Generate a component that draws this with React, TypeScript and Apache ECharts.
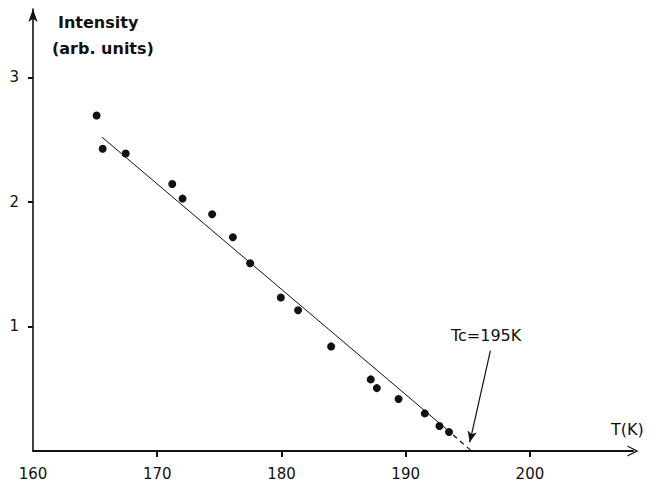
import React, { useEffect, useRef } from "react";
import * as echarts from "echarts";

// Temperature (K) of each measured point
const temps = [165.12, 165.61, 167.46, 171.21, 172.04, 174.42, 176.09, 177.48, 179.95, 181.34, 184.0, 187.19, 187.68, 189.43, 191.54, 192.72, 193.49];
// Intensity (arb. units)
const intensity = [2.695, 2.428, 2.39, 2.144, 2.027, 1.901, 1.717, 1.508, 1.233, 1.131, 0.84, 0.575, 0.505, 0.417, 0.302, 0.201, 0.152];
// Fitted straight line (solid part) and its extrapolation (dashed) to Tc
const fitSolid: [number, number][] = [[165.55, 2.521], [193.28, 0.176]];
const fitDashed: [number, number][] = [[193.28, 0.176], [195.3, 0]];
// Tc annotation arrow: from label to the axis
const tcArrow: [number, number][] = [[196.82, 0.806], [195.16, 0.07]];
const xTicks = [160, 170, 180, 190, 200];
const yTicks = [1, 2, 3];

const FONT = "DejaVu Sans";
const INK = "#111";

export default function App() {
  const ref = useRef<HTMLDivElement>(null);
  useEffect(() => {
    if (!ref.current) return;
    const chart = echarts.init(ref.current, undefined, { renderer: "svg" });
    const points = temps.map((t, i) => [t, intensity[i]]);
    chart.setOption({
      animation: false,
      backgroundColor: "#fff",
      grid: { left: 33, right: 16, top: 9, bottom: 29 },
      xAxis: {
        type: "value",
        min: 160,
        max: 208.3,
        axisLine: {
          lineStyle: { color: INK, width: 2 },
          symbol: ["none", "path://M0,12 L6,0 L12,12 L10.6,12 L6,3 L1.4,12 Z"],
          symbolSize: [11, 12],
        },
        axisTick: { customValues: xTicks.slice(1), length: 6, lineStyle: { color: INK, width: 2 } },
        axisLabel: { customValues: xTicks, color: INK, fontFamily: FONT, fontSize: 15, margin: 15 },
        splitLine: { show: false },
      },
      yAxis: {
        type: "value",
        min: 0,
        max: 3.55,
        axisLine: {
          lineStyle: { color: INK, width: 1.6 },
          symbol: ["none", "arrow"],
          symbolSize: [7, 13],
        },
        axisTick: { customValues: yTicks, length: 5, lineStyle: { color: INK, width: 2 } },
        axisLabel: { customValues: yTicks, color: INK, fontFamily: FONT, fontSize: 15, margin: 14 },
        splitLine: { show: false },
      },
      series: [
        {
          type: "line",
          data: fitSolid,
          symbol: "none",
          lineStyle: { color: INK, width: 1 },
          silent: true,
        },
        {
          type: "line",
          data: fitDashed,
          symbol: "none",
          lineStyle: { color: INK, width: 1.2, type: [5, 4] },
          silent: true,
        },
        {
          type: "line",
          data: [],
          silent: true,
          markLine: {
            silent: true,
            symbol: ["none", "arrow"],
            symbolSize: [7, 11],
            lineStyle: { color: INK, width: 1.2, type: "solid" },
            label: { show: false },
            data: [[{ coord: tcArrow[0] }, { coord: tcArrow[1] }]],
          },
        },
        {
          type: "scatter",
          data: points,
          symbol: "circle",
          symbolSize: 8,
          itemStyle: { color: INK, opacity: 1 },
        },
      ],
      graphic: [
        { type: "text", left: 58, top: 14, style: { text: "Intensity", font: `bold 16px "${FONT}"`, fill: INK } },
        { type: "text", left: 52, top: 40, style: { text: "(arb. units)", font: `bold 16px "${FONT}"`, fill: INK } },
        { type: "text", left: 611, top: 421, style: { text: "T(K)", font: `16px "${FONT}"`, fill: INK } },
        { type: "text", left: 451, top: 327, style: { text: "Tc=195K", font: `16px "${FONT}"`, fill: INK } },
      ],
    });
    return () => chart.dispose();
  }, []);
  return <div ref={ref} style={{ position: "fixed", left: 0, top: 0, width: 649, height: 481 }} />;
}
